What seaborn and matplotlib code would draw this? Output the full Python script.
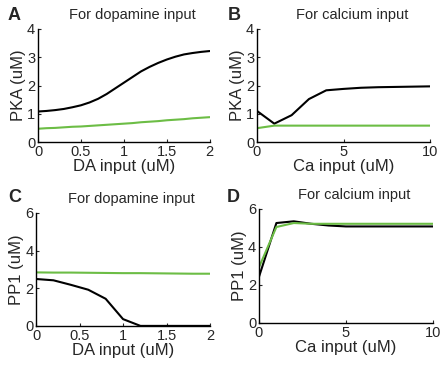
import pandas as pd
import matplotlib.pyplot as plt
import seaborn as sns

# data
da_x = [0, 0.1, 0.2, 0.3, 0.4, 0.5, 0.6, 0.7, 0.8, 0.9, 1.0,
        1.1, 1.2, 1.3, 1.4, 1.5, 1.6, 1.7, 1.8, 1.9, 2.0]
pka_da_black = [1.08, 1.1, 1.13, 1.17, 1.23, 1.3, 1.4, 1.53, 1.7, 1.9, 2.1,
                2.3, 2.5, 2.66, 2.8, 2.92, 3.02, 3.1, 3.15, 3.19, 3.22]
pka_da_green = [0.47, 0.49, 0.5, 0.52, 0.54, 0.55, 0.57, 0.59, 0.61, 0.63, 0.65,
                0.67, 0.7, 0.72, 0.74, 0.77, 0.79, 0.81, 0.84, 0.86, 0.88]

ca_x = [0, 1, 2, 3, 4, 5, 6, 7, 8, 9, 10]
pka_ca_black = [1.1, 0.65, 0.95, 1.52, 1.83, 1.88, 1.92, 1.94, 1.95, 1.96, 1.97]
pka_ca_green = [0.49, 0.58, 0.58, 0.58, 0.58, 0.58, 0.58, 0.58, 0.58, 0.58, 0.58]

da_x2 = [0, 0.2, 0.4, 0.6, 0.8, 1.0, 1.2, 1.4, 1.6, 1.8, 2.0]
pp1_da_black = [2.49, 2.42, 2.18, 1.92, 1.44, 0.36, 0.0, 0.0, 0.0, 0.0, 0.0]
pp1_da_green = [2.84, 2.83, 2.83, 2.82, 2.81, 2.8, 2.8, 2.79, 2.78, 2.77, 2.77]

pp1_ca_black = [2.43, 5.26, 5.35, 5.22, 5.13, 5.08, 5.08, 5.08, 5.08, 5.08, 5.08]
pp1_ca_green = [2.93, 5.05, 5.26, 5.22, 5.22, 5.22, 5.22, 5.22, 5.22, 5.22, 5.22]

sns.set_style("ticks")
plt.rcParams['font.family'] = ['Liberation Sans', 'DejaVu Sans']
plt.rcParams['xtick.direction'] = 'in'
plt.rcParams['ytick.direction'] = 'in'

green = '#6cbd45'
fig = plt.figure(figsize=(4.45, 3.67), dpi=100)

panels = [
    # letter, letter pos, rect, x, black, green, xlim, xticks, ylim, yticks, xlabel, ylabel, title
    ('A', (0.018, 0.945), [0.0854, 0.613, 0.386, 0.308], da_x, pka_da_black, pka_da_green,
     (0, 2), [0, 0.5, 1, 1.5, 2], (0, 4), [0, 1, 2, 3, 4],
     'DA input (uM)', 'PKA (uM)', 'For dopamine input'),
    ('B', (0.512, 0.945), [0.5775, 0.613, 0.389, 0.308], ca_x, pka_ca_black, pka_ca_green,
     (0, 10), [0, 5, 10], (0, 4), [0, 1, 2, 3, 4],
     'Ca input (uM)', 'PKA (uM)', 'For calcium input'),
    ('C', (0.018, 0.45), [0.081, 0.112, 0.391, 0.308], da_x2, pp1_da_black, pp1_da_green,
     (0, 2), [0, 0.5, 1, 1.5, 2], (0, 6), [0, 2, 4, 6],
     'DA input (uM)', 'PP1 (uM)', 'For dopamine input'),
    ('D', (0.51, 0.45), [0.582, 0.12, 0.391, 0.3106], ca_x, pp1_ca_black, pp1_ca_green,
     (0, 10), [0, 5, 10], (0, 6), [0, 2, 4, 6],
     'Ca input (uM)', 'PP1 (uM)', 'For calcium input'),
]

for letter, lpos, rect, x, yb, yg, xlim, xt, ylim, yt, xl, yl, title in panels:
    ax = fig.add_axes(rect)
    df = pd.DataFrame({'x': x, 'black': yb, 'green': yg})
    sns.lineplot(data=df, x='x', y='black', color='black', lw=1.5, ax=ax)
    sns.lineplot(data=df, x='x', y='green', color=green, lw=1.5, ax=ax)
    ax.set_xlim(*xlim)
    ax.set_ylim(*ylim)
    ax.set_xticks(xt)
    ax.set_xticklabels([('%g' % v) for v in xt])
    ax.set_yticks(yt)
    ax.set_xlabel(xl, fontsize=12, labelpad=0)
    ax.set_ylabel(yl, fontsize=12, labelpad=1)
    ax.set_title(title, fontsize=10.5, pad=7, x=0.55)
    ax.tick_params(labelsize=10.5, length=2, width=0.8, pad=2)
    for s in ['top', 'right']:
        ax.spines[s].set_visible(False)
    for s in ['left', 'bottom']:
        ax.spines[s].set_linewidth(1.0)
        ax.spines[s].set_color('black')
    fig.text(lpos[0], lpos[1], letter, fontsize=13, fontweight='bold')

fig.savefig('out.png', dpi=100)
